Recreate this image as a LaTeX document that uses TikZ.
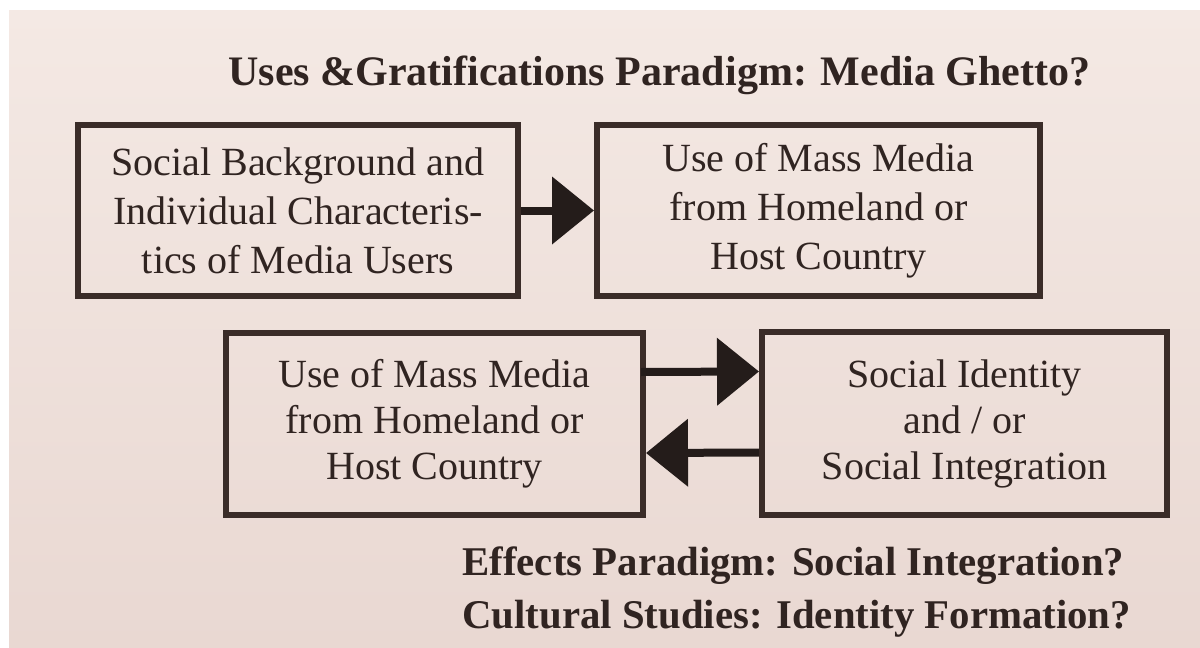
\documentclass[tikz,border=0pt]{standalone}
\usepackage{fontspec}
\setmainfont{Liberation Serif}
\usetikzlibrary{arrows.meta,calc}

\definecolor{paper}{RGB}{244,233,228}
\definecolor{paperdark}{RGB}{233,216,210}
\definecolor{ink}{RGB}{48,36,33}
\definecolor{rule}{RGB}{58,44,40}
\definecolor{arrowink}{RGB}{36,28,26}

\tikzset{
  stagebox/.style={draw=rule, line width=3pt, rectangle, inner sep=0pt,
    align=center, text=ink, font=\fontsize{20}{24.5}\selectfont},
  stageboxlow/.style={stagebox, font=\fontsize{20}{23}\selectfont},
  heading/.style={anchor=base west, inner sep=0pt, text=ink,
    font=\fontsize{21}{25}\selectfont\bfseries},
  footing/.style={heading, font=\fontsize{20.4}{25}\selectfont\bfseries},
  flow/.style={draw=arrowink, line width=4pt,
    -{Triangle[length=21pt,width=33pt]}, arrowink}
}

\begin{document}
\begin{tikzpicture}[x=0.5pt,y=-0.5pt]
  % page and its surround
  \fill[white] (0,0) rectangle (1200,648);
  \shade[top color=paper, bottom color=paperdark] (9,10) rectangle (1200,648);
  \useasboundingbox (0,0) rectangle (1200,648);

  % titles
  \node[heading] (t1) at (228,85) {Uses \&Gratifications Paradigm: Media Ghetto?};
  \node[footing] (t2) at (462,575) {Effects Paradigm: Social Integration?};
  \node[footing] (t3) at (462,628) {Cultural Studies: Identity Formation?};

  % upper row
  \node[stagebox, minimum width=220pt, minimum height=85.5pt] (a) at (298,210.5)
    {Social Background and\\Individual Characteris-\\tics of Media Users};
  \node[stagebox, minimum width=221.5pt, minimum height=85.5pt] (b) at (818.5,210.5)
    {Use of Mass Media\\from Homeland or\\Host Country};

  % lower row
  \node[stageboxlow, minimum width=208.5pt, minimum height=91pt] (c) at (434.5,424)
    {Use of Mass Media\\from Homeland or\\Host Country};
  \node[stageboxlow, minimum width=202.5pt, minimum height=91.5pt] (d) at (964.5,423.5)
    {Social Identity\\and / or\\Social Integration};

  % connectors
  \draw[flow] (a.east) -- (b.west);
  \draw[flow] ([xshift=-2.5pt,yshift=26pt]c.east) -- ([yshift=26pt]d.west);
  \draw[flow] ([yshift=-14.5pt]d.west) -- ([yshift=-14.5pt]c.east);
\end{tikzpicture}
\end{document}
